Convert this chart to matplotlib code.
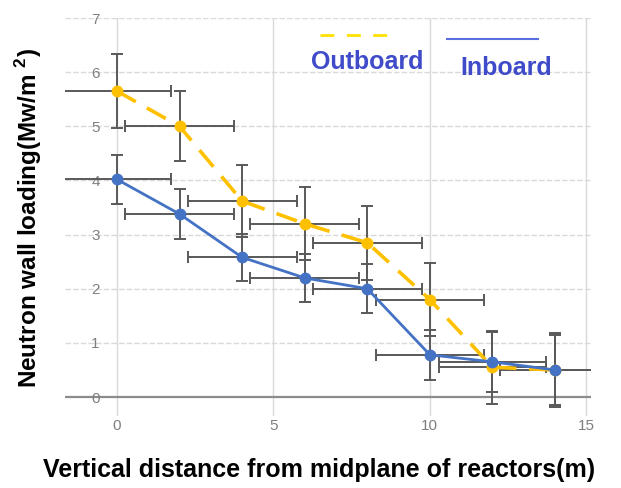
import matplotlib
matplotlib.use("Agg")
import matplotlib.pyplot as plt
from matplotlib.lines import Line2D

plt.rcParams["mathtext.fontset"] = "custom"
plt.rcParams["mathtext.rm"] = "Liberation Sans"
plt.rcParams["mathtext.bf"] = "Liberation Sans:bold"

# ---- data ----
distance = [0, 2, 4, 6, 8, 10, 12, 14]
outboard = [5.65, 5.0, 3.62, 3.2, 2.85, 1.8, 0.55, 0.5]
outboard_yerr = [0.68, 0.65, 0.66, 0.67, 0.68, 0.67, 0.67, 0.68]
inboard = [4.02, 3.38, 2.58, 2.2, 2.0, 0.78, 0.65, 0.5]
inboard_yerr = [0.45, 0.46, 0.43, 0.45, 0.45, 0.46, 0.55, 0.65]
xerr = [1.72, 1.75, 1.74, 1.75, 1.75, 1.73, 1.72, 1.75]
xticks = [0, 5, 10, 15]
yticks = [0, 1, 2, 3, 4, 5, 6, 7]

W, H = 621, 488
fig = plt.figure(figsize=(W / 100, H / 100), dpi=100)
ax = fig.add_axes([65 / W, 1 - 416 / H, (591 - 65) / W, (416 - 18) / H])
ax.set_xlim(-1.66, 15.15)
ax.set_ylim(-0.35, 7)

for s in ax.spines.values():
    s.set_visible(False)

# grid
for yv in yticks[1:]:
    ax.axhline(yv, color="#d9d9d9", lw=1.0, ls=(0, (4, 1.5)), zorder=0)
for xv in xticks:
    ax.axvline(xv, color="#d9d9d9", lw=1.0, zorder=0)
ax.axhline(0, color="#8c8c8c", lw=1.6, zorder=1)

eb_kw = dict(fmt="none", ecolor="#595959", elinewidth=1.4, capsize=4, capthick=1.4, zorder=2)
ax.errorbar(distance, outboard, yerr=outboard_yerr, xerr=xerr, **eb_kw)
ax.errorbar(distance, inboard, yerr=inboard_yerr, xerr=xerr, **eb_kw)

ax.plot(distance, outboard, color="#FFC000", lw=2.6, ls=(0, (6, 3.5)),
        marker="o", ms=7.5, zorder=3)
ax.plot(distance, inboard, color="#4472C4", lw=2.0, ls="-",
        marker="o", ms=7.5, zorder=4)

ax.set_xticks(xticks)
ax.set_yticks(yticks)
ax.tick_params(axis="both", length=0, colors="#7f7f7f", labelsize=11)
ax.tick_params(axis="y", pad=-25)
ax.tick_params(axis="x", pad=2)
for lab in ax.get_xticklabels() + ax.get_yticklabels():
    lab.set_fontfamily("Liberation Sans")

# custom legend
fig.add_artist(Line2D([320 / W, 388 / W], [1 - 35 / H, 1 - 35 / H], color="#FFE000",
                      lw=2.0, ls=(0, (5, 4.5))))
fig.add_artist(Line2D([447 / W, 538 / W], [1 - 39 / H, 1 - 39 / H], color="#5B6EE0", lw=1.5))
fig.text(367 / W, 1 - 62 / H, "Outboard", color="#3F4BC9", fontsize=18, fontweight="bold",
         family="Liberation Sans", ha="center", va="center")
fig.text(506 / W, 1 - 68 / H, "Inboard", color="#3F4BC9", fontsize=18, fontweight="bold",
         family="Liberation Sans", ha="center", va="center")

fig.text(319 / W, 1 - 470 / H, "Vertical distance from midplane of reactors(m)",
         fontsize=18, fontweight="bold", family="Liberation Sans", ha="center", va="center")
fig.text(29 / W, 1 - 218 / H, r"Neutron wall loading(Mw/m $^{\mathbf{2}}$)", rotation=90,
         fontsize=17.5, fontweight="bold", family="Liberation Sans", ha="center", va="center")

fig.savefig("out.png", dpi=100)
